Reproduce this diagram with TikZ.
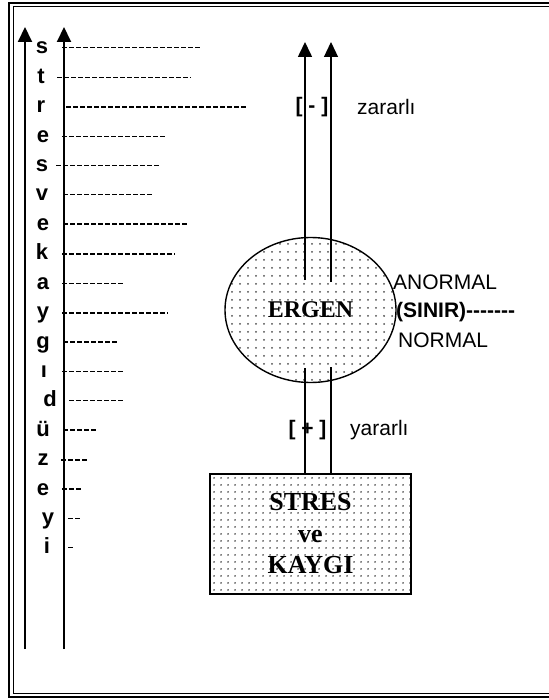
\documentclass[tikz,border=0pt]{standalone}
\usepackage{fontspec}
\setmainfont{Liberation Serif}
\setsansfont{Liberation Sans}
\usetikzlibrary{arrows.meta, shapes.geometric, patterns.meta}

\begin{document}
\begin{tikzpicture}[x=1pt, y=-1pt, >={Triangle[length=15pt, width=14pt]},
  letter/.style={font=\sffamily\bfseries\fontsize{22}{22}\selectfont, inner sep=0pt, anchor=base},
  hyphline/.style={dash pattern=on 4.5pt off 2.5pt},
  sanstext/.style={font=\sffamily\fontsize{21}{21}\selectfont, inner sep=0pt},
  boldtext/.style={font=\sffamily\bfseries\fontsize{21}{21}\selectfont, inner sep=0pt},
  serifbold/.style={font=\rmfamily\bfseries\fontsize{#1}{31.5}\selectfont}]

\useasboundingbox (0,0) rectangle (548,700);

% Double frame
\draw[line width=2.2pt] (9,3) rectangle (560,697);
\draw[line width=1pt] (13,7) rectangle (556,693);

% Two axes on the left
\coordinate (axisAbot) at (25,649);
\coordinate (axisAtop) at (25,27);
\coordinate (axisBbot) at (64,649);
\coordinate (axisBtop) at (64,27);
\draw[->, line width=2pt] (axisAbot) -- (axisAtop);
\draw[->, line width=2pt] (axisBbot) -- (axisBtop);

% Letters with their dashed scale lines
\foreach \ch/\lx/\dx/\ex/\w [count=\i] in {s/42/62/202/1, t/41/57/191/1, r/41/66/248/2.2,
    e/43/62/167/1, s/42/56/161/1, v/42/63/153/1, e/43/63/189/2.2, k/42/62/175/2.2,
    a/43/62/124/1, y/43/62/168/2.2, g/43/63/119/2.2, ı/44/62/124/1, d/50/69/124/1,
    ü/43/63/98/2.2, z/43/61/88/2.2, e/43/62/82/2.2, y/48/68/81/1, i/47/68/73/1} {
  \node[letter] (l\i) at (\lx, {48+(\i-1)*29.4+6}) {\ch};
  \draw[hyphline, line width=\w pt] (\dx, {48+(\i-1)*29.4}) -- (\ex, {48+(\i-1)*29.4});
}

% Ellipse and box
\node[ellipse, draw, line width=1.4pt, pattern={Dots[distance=8pt, radius=1pt]}, pattern color=black!70,
  minimum width=171pt, minimum height=145pt, inner sep=0pt, serifbold=24] (ergen) at (310.5,310) {ERGEN};
\node[draw, line width=1.8pt, pattern={Dots[distance=6.5pt, radius=1pt]}, pattern color=black!70,
  minimum width=201pt, minimum height=120pt, align=center, serifbold=26] (stres) at (310.5,534) {STRES\\ve\\KAYGI};

% Lines from box to ellipse
\coordinate (lowL) at (305,368);
\coordinate (lowR) at (331,367);
\draw[line width=1.6pt] (lowL) -- (lowL |- stres.north);
\draw[line width=1.2pt] (lowR) -- (lowR |- stres.north);

% Arrows out of the ellipse
\coordinate (upLbot) at (305,280);
\coordinate (upLtop) at (305,42);
\coordinate (upRbot) at (331,282);
\coordinate (upRtop) at (331,42);
\draw[->, line width=1.6pt] (upLbot) -- (upLtop);
\draw[->, line width=1.2pt] (upRbot) -- (upRtop);

% Labels
\node[boldtext] (minus) at (312,107) {[ - ]};
\node[sanstext, anchor=west] (zararli) at (357,107) {zararlı};
\node[boldtext] (plus) at (307.5,430) {[ + ]};
\node[sanstext, anchor=west] (yararli) at (350,430) {yararlı};
\node[sanstext, anchor=west] (anormal) at (393,282) {ANORMAL};
\node[boldtext, anchor=west] (sinir) at (396,312) {(SINIR)-{}-{}-{}-{}-{}-{}-};
\node[sanstext, anchor=west] (normal) at (398,340) {NORMAL};

\end{tikzpicture}
\end{document}
